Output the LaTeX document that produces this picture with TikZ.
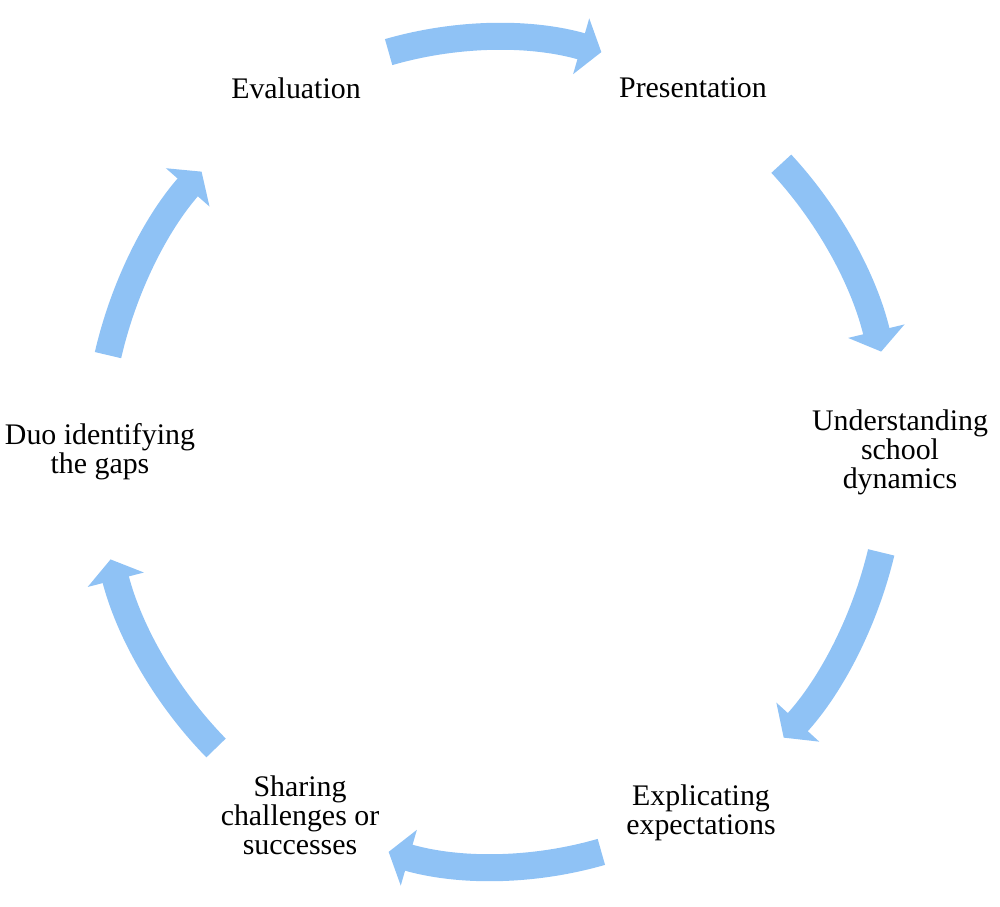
\documentclass[tikz,border=0pt]{standalone}
\usepackage{fontspec}
\setmainfont{Liberation Serif}
\usepackage{xcolor}
\usepackage{tikz}
\usetikzlibrary{arrows.meta}
\definecolor{cycBlue}{RGB}{143,194,245}
\tikzstyle{stage} = [align=center, inner sep=0pt,
   font=\fontsize{17}{16.5}\selectfont]
\tikzstyle{cycArrow} = [draw=cycBlue, line width=0.54cm,
   x radius=7.96cm, y radius=8.3cm,
   -{Triangle[width=1.14cm, length=0.42cm]}]

\begin{document}
\begin{tikzpicture}
  \useasboundingbox (-9.9,-9.1) rectangle (10.1,9.04);
  \node[stage] (e) at (-3.98,7.28) {Evaluation};
  \node[stage] (p) at (3.96,7.28) {Presentation};
  \node[stage] (u) at (8.1,0) {Understanding\\school\\dynamics};
  \node[stage] (x) at (4.12,-7.21) {Explicating\\expectations};
  \node[stage] (s) at (-3.9,-7.26) {Sharing\\challenges or\\successes};
  \node[stage] (d) at (-7.9,0) {Duo identifying\\the gaps};

  % tails of the arrows, on the ellipse
  \coordinate (ep) at (105.5:7.96cm and 8.3cm);
  \coordinate (pu) at (44:7.96cm and 8.3cm);
  \coordinate (ux) at (-14:7.96cm and 8.3cm);
  \coordinate (xs) at (-74.5:7.96cm and 8.3cm);
  \coordinate (sd) at (225.5:7.96cm and 8.3cm);
  \coordinate (de) at (166.5:7.96cm and 8.3cm);

  % arrows, clockwise
  \draw[cycArrow] (ep) arc[start angle=105.5, end angle=74.5];
  \draw[cycArrow] (pu) arc[start angle=44, end angle=14];
  \draw[cycArrow] (ux) arc[start angle=-14, end angle=-43.5];
  \draw[cycArrow] (xs) arc[start angle=-74.5, end angle=-105.5];
  \draw[cycArrow] (sd) arc[start angle=225.5, end angle=195];
  \draw[cycArrow] (de) arc[start angle=166.5, end angle=137.5];
\end{tikzpicture}
\end{document}
